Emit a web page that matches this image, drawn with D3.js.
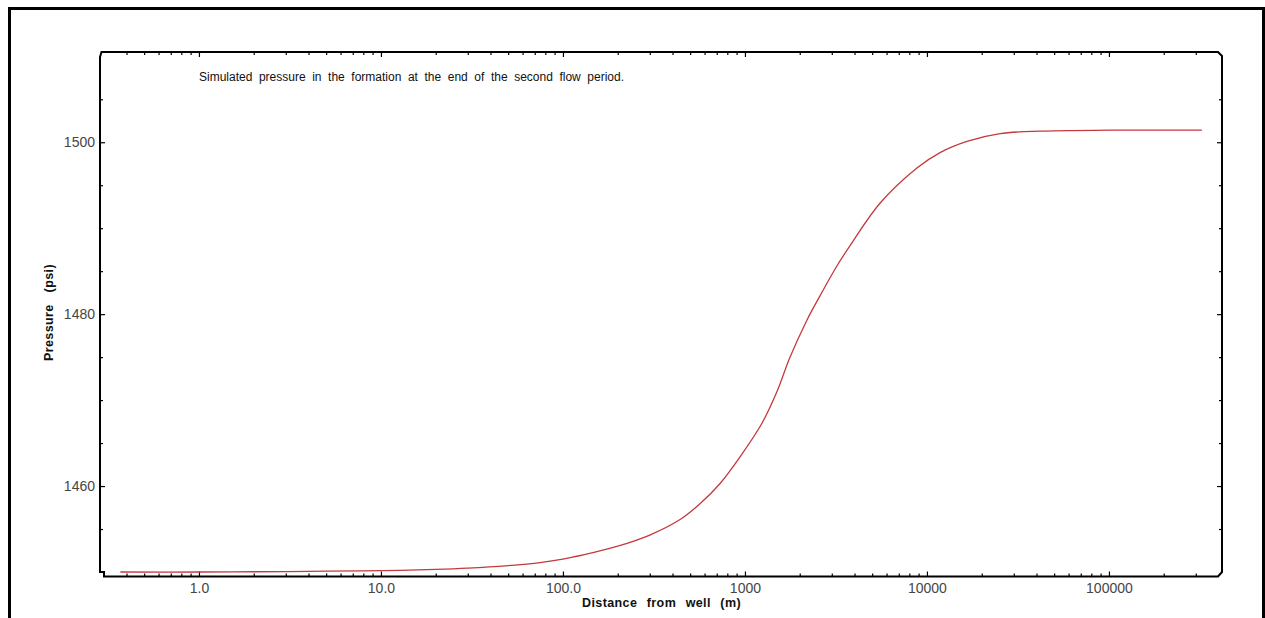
<!DOCTYPE html>
<html>
<head>
<meta charset="utf-8">
<script src="https://cdn.jsdelivr.net/npm/d3@7"></script>
<style>
  html, body { margin: 0; padding: 0; background: #fff; }
  svg { display: block; }
</style>
</head>
<body>
<svg id="chart" width="1265" height="618"></svg>
<script>
// ---- data ----
const distance = [0.37, 1, 3, 5, 10, 20, 30, 50, 75, 100, 150, 200, 300, 440, 570, 730, 940, 1240, 1500, 1770, 2190, 2580, 3200, 3870, 5520, 8810, 11800, 16600, 25200, 41900, 100000, 324000];
const pressure = [1450.0, 1450.0, 1450.05, 1450.1, 1450.15, 1450.3, 1450.45, 1450.75, 1451.1, 1451.5, 1452.3, 1453.0, 1454.3, 1456.1, 1458.0, 1460.3, 1463.4, 1467.3, 1471.0, 1475.0, 1479.3, 1482.1, 1485.6, 1488.3, 1492.9, 1497.0, 1498.8, 1500.1, 1501.0, 1501.3, 1501.4, 1501.4];
const xMajorTicks = [1, 10, 100, 1000, 10000, 100000];
const xTickLabels = ["1.0", "10.0", "100.0", "1000", "10000", "100000"];
const yMajorTicks = [1460, 1480, 1500];
const yMinorTicks = [1455, 1465, 1470, 1475, 1485, 1490, 1495, 1505];
const titleText = "Simulated pressure in the formation at the end of the second flow period.";
const xTitle = "Distance from well (m)";
const yTitle = "Pressure (psi)";

// ---- layout ----
const L = 100, R = 1222, T = 52, B = 576.5, Yb = 572;
const svg = d3.select("#chart");
svg.append("rect").attr("width", 1265).attr("height", 618).attr("fill", "#fff");

// outer frame
svg.append("rect").attr("x", 9.5).attr("y", 8.5).attr("width", 1254).attr("height", 640)
  .attr("fill", "none").attr("stroke", "#000").attr("stroke-width", 3);

const x = d3.scaleLog().domain([0.286, 418000]).range([L, R]);
const y = d3.scaleLinear().domain([1450, 1510.5]).range([Yb, T]);

// minor x ticks
const xMinor = [];
for (let n = -1; n <= 5; n++) for (let k = 2; k <= 9; k++) {
  const v = k * Math.pow(10, n);
  if (v >= 0.35 && v <= 350000) xMinor.push(v);
}

const fontTick = "'Liberation Sans', Arial, sans-serif";
function styleAxis(g) {
  g.select(".domain").remove();
  g.selectAll("line").attr("stroke", "#000").attr("stroke-width", 1.2);
  g.selectAll("text").attr("font-family", fontTick).attr("font-size", 14).attr("fill", "#454545");
}

// bottom axis
svg.append("g").attr("transform", `translate(0,${B})`)
  .call(d3.axisBottom(x).tickValues(xMinor).tickSizeInner(-3).tickSizeOuter(0).tickFormat(""))
  .call(styleAxis);
svg.append("g").attr("transform", `translate(0,${B})`)
  .call(d3.axisBottom(x).tickValues(xMajorTicks).tickSizeInner(-5).tickSizeOuter(0).tickPadding(6.5)
    .tickFormat((d, i) => xTickLabels[i]))
  .call(styleAxis);
// top axis
svg.append("g").attr("transform", `translate(0,${T})`)
  .call(d3.axisTop(x).tickValues(xMinor).tickSizeInner(-3).tickSizeOuter(0).tickFormat(""))
  .call(styleAxis);
svg.append("g").attr("transform", `translate(0,${T})`)
  .call(d3.axisTop(x).tickValues(xMajorTicks).tickSizeInner(-5).tickSizeOuter(0).tickFormat(""))
  .call(styleAxis);
// left axis
svg.append("g").attr("transform", `translate(${L},0)`)
  .call(d3.axisLeft(y).tickValues(yMinorTicks).tickSizeInner(-3).tickSizeOuter(0).tickFormat(""))
  .call(styleAxis);
svg.append("g").attr("transform", `translate(${L},0)`)
  .call(d3.axisLeft(y).tickValues(yMajorTicks).tickSizeInner(-5).tickSizeOuter(0).tickPadding(5)
    .tickFormat(d3.format("d")))
  .call(styleAxis);
// right axis
svg.append("g").attr("transform", `translate(${R},0)`)
  .call(d3.axisRight(y).tickValues(yMinorTicks).tickSizeInner(-3).tickSizeOuter(0).tickFormat(""))
  .call(styleAxis);
svg.append("g").attr("transform", `translate(${R},0)`)
  .call(d3.axisRight(y).tickValues(yMajorTicks).tickSizeInner(-5).tickSizeOuter(0).tickFormat(""))
  .call(styleAxis);

// plot frame with small corner notches
svg.append("path")
  .attr("d", `M${L},${T + 5} L${L + 1.5},${T} L${R - 4},${T} L${R},${T + 4} L${R},${Yb} L${R - 4},${B} L${L + 4},${B} L${L + 4},${Yb} L${L},${Yb} Z`)
  .attr("fill", "none").attr("stroke", "#000").attr("stroke-width", 2);

// curve
const pts = distance.map((d, i) => [d, pressure[i]]);
svg.append("path")
  .datum(pts)
  .attr("d", d3.line().x(d => x(d[0])).y(d => y(d[1])).curve(d3.curveCatmullRom.alpha(0.5)))
  .attr("fill", "none").attr("stroke", "#c4393c").attr("stroke-width", 1.3);

// helper to fit text width by word spacing
function fitWords(sel, target) {
  const node = sel.node();
  const len = node.getComputedTextLength();
  const spaces = (sel.text().match(/ /g) || []).length;
  if (spaces > 0) sel.attr("word-spacing", Math.max(0, (target - len) / spaces));
}

// title
const t = svg.append("text").attr("x", 199).attr("y", 81)
  .attr("font-family", fontTick).attr("font-size", 12).attr("fill", "#111").text(titleText);
fitWords(t, 425);

// x title
const xt = svg.append("text").attr("x", 582).attr("y", 607)
  .attr("font-family", fontTick).attr("font-size", 12.5).attr("font-weight", "bold")
  .attr("letter-spacing", 0.4).attr("fill", "#111").text(xTitle);
fitWords(xt, 159);

// y title
const yt = svg.append("text").attr("transform", "translate(52.5,361) rotate(-90)")
  .attr("font-family", fontTick).attr("font-size", 12.5).attr("font-weight", "bold")
  .attr("letter-spacing", 0.4).attr("fill", "#111").text(yTitle);
fitWords(yt, 97);
</script>
</body>
</html>
